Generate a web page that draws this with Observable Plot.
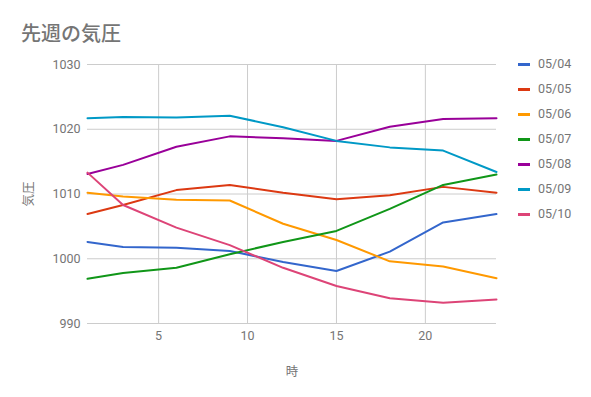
<!DOCTYPE html>
<html>
<head>
<meta charset="utf-8">
<script src="https://cdn.jsdelivr.net/npm/d3@7"></script>
<script src="https://cdn.jsdelivr.net/npm/@observablehq/plot@0.6"></script>
<style>
  html, body { margin: 0; padding: 0; background: #fff; }
  #wrap { position: relative; width: 591px; height: 397px; overflow: hidden; font-family: Roboto, "Noto Sans CJK JP", sans-serif; }
  #title { position: absolute; left: 21px; top: 23px; font-family: "Noto Sans CJK JP", sans-serif; font-size: 20px; line-height: 20px; font-weight: 500; color: #757575; white-space: nowrap; }
  #legend { position: absolute; left: 518px; top: 56px; }
  .item { position: absolute; left: 0; height: 16px; white-space: nowrap; font-size: 12.5px; color: #757575; }
  .sw { position: absolute; left: 0; top: 6.5px; width: 12px; height: 3.5px; }
  .lb { position: absolute; left: 20px; top: 0; line-height: 16px; }
  svg { position: absolute; left: 0; top: 0; }
</style>
</head>
<body>
<div id="wrap">
  <div id="title">先週の気圧</div>
  <div id="legend"></div>
</div>
<script>
const title = "先週の気圧";
const xLabel = "時";
const yLabel = "気圧";
const hours = [1, 3, 6, 9, 12, 15, 18, 21, 24];
const dates = ["05/04", "05/05", "05/06", "05/07", "05/08", "05/09", "05/10"];
const colors = ["#3366cc", "#dc3912", "#ff9900", "#109618", "#990099", "#0099c6", "#dd4477"];
const p0504 = [1002.6, 1001.8, 1001.7, 1001.2, 999.5, 998.1, 1001.1, 1005.6, 1006.9];
const p0505 = [1006.9, 1008.3, 1010.6, 1011.4, 1010.2, 1009.2, 1009.8, 1011.1, 1010.2];
const p0506 = [1010.2, 1009.6, 1009.1, 1009.0, 1005.4, 1002.9, 999.6, 998.8, 997.0];
const p0507 = [996.9, 997.8, 998.6, 1000.7, 1002.6, 1004.3, 1007.7, 1011.4, 1013.0];
const p0508 = [1013.1, 1014.5, 1017.3, 1018.9, 1018.6, 1018.2, 1020.4, 1021.6, 1021.7];
const p0509 = [1021.7, 1021.9, 1021.8, 1022.1, 1020.3, 1018.2, 1017.2, 1016.7, 1013.4];
const p0510 = [1013.3, 1008.3, 1004.8, 1002.1, 998.6, 995.8, 993.9, 993.2, 993.7];
const series = [p0504, p0505, p0506, p0507, p0508, p0509, p0510];
const xTicks = [5, 10, 15, 20];
const yTicks = [990, 1000, 1010, 1020, 1030];

document.getElementById("title").textContent = title;

const data = [];
dates.forEach((d, i) => hours.forEach((h, j) => data.push({date: d, hour: h, value: series[i][j]})));

const chart = Plot.plot({
  width: 591,
  height: 397,
  marginLeft: 87,
  marginRight: 95,
  marginTop: 64,
  marginBottom: 74,
  style: { fontFamily: "Roboto, 'Noto Sans CJK JP', sans-serif", fontSize: "12.5px", color: "#757575", background: "transparent" },
  x: { domain: [1, 24] },
  y: { domain: [990, 1030] },
  color: { domain: dates, range: colors },
  marks: [
    Plot.gridX(xTicks, { stroke: "#cccccc", strokeOpacity: 1, strokeWidth: 1 }),
    Plot.gridY(yTicks, { stroke: "#cccccc", strokeOpacity: 1, strokeWidth: 1 }),
    Plot.axisX(xTicks, { tickSize: 0, tickPadding: 8, tickFormat: "d", label: xLabel, labelAnchor: "center", labelArrow: "none", labelOffset: 52, fill: "#757575", fontSize: 12.5 }),
    Plot.axisY(yTicks, { tickSize: 0, tickPadding: 7, tickFormat: "d", label: yLabel, labelAnchor: "center", labelArrow: "none", labelOffset: 63, fill: "#757575", fontSize: 12.5 }),
    Plot.line(data, { x: "hour", y: "value", z: "date", stroke: "date", strokeWidth: 2, curve: "linear" })
  ]
});
document.getElementById("wrap").insertBefore(chart, document.getElementById("title"));

const legend = document.getElementById("legend");
dates.forEach((d, i) => {
  const item = document.createElement("div");
  item.className = "item";
  item.style.top = (i * 25) + "px";
  const sw = document.createElement("div");
  sw.className = "sw";
  sw.style.background = colors[i];
  const lb = document.createElement("div");
  lb.className = "lb";
  lb.textContent = d;
  item.appendChild(sw);
  item.appendChild(lb);
  legend.appendChild(item);
});
</script>
</body>
</html>
